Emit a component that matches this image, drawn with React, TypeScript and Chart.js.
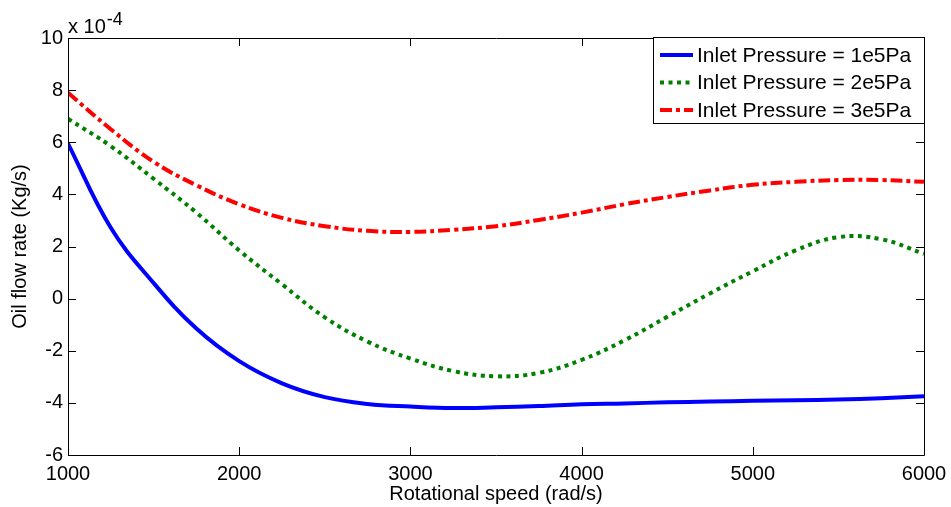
import React, { useEffect, useRef } from "react";
import { Chart, registerables } from "chart.js";

Chart.register(...registerables);

// Rotational speed (rad/s)
const speeds = [1000, 1250, 1500, 1750, 2000, 2250, 2500, 2750, 3000, 3250, 3500, 3750, 4000, 4250, 4500, 4750, 5000, 5250, 5500, 5750, 6000];

// Oil flow rate in units of 1e-4 kg/s
const flow1e5 = [5.95, 2.72, 0.6, -1.15, -2.4, -3.25, -3.78, -4.04, -4.14, -4.2, -4.17, -4.12, -4.05, -4.02, -3.98, -3.95, -3.92, -3.9, -3.87, -3.82, -3.75];
const flow2e5 = [6.9, 5.85, 4.6, 3.3, 1.85, 0.55, -0.72, -1.65, -2.3, -2.78, -2.98, -2.85, -2.35, -1.6, -0.7, 0.2, 1.05, 1.85, 2.36, 2.28, 1.72];
const flow3e5 = [7.9, 6.5, 5.25, 4.35, 3.62, 3.1, 2.78, 2.6, 2.56, 2.64, 2.78, 3.02, 3.3, 3.62, 3.9, 4.15, 4.37, 4.48, 4.55, 4.55, 4.48];

const seriesLabels = ["Inlet Pressure = 1e5Pa", "Inlet Pressure = 2e5Pa", "Inlet Pressure = 3e5Pa"];
const seriesColors = ["#0000ff", "#008000", "#ff0000"];
const seriesDashes: number[][] = [[], [4, 4.5], [12, 4, 4, 4]];

const xTicks = [1000, 2000, 3000, 4000, 5000, 6000];
const yTicks = [-6, -4, -2, 0, 2, 4, 6, 8, 10];

const xTitle = "Rotational speed (rad/s)";
const yTitle = "Oil flow rate (Kg/s)";
const exponentBase = "x 10";
const exponentPower = "-4";

const FONT = "Arial, 'Liberation Sans', Helvetica, sans-serif";

const matlabPlugin = {
  id: "matlabDecor",
  afterDatasetsDraw(chart: any) {
    const { ctx, chartArea, scales } = chart;
    const { left, right, top, bottom } = chartArea;
    ctx.save();
    // axes box
    ctx.strokeStyle = "#000";
    ctx.lineWidth = 1;
    ctx.setLineDash([]);
    ctx.beginPath();
    ctx.rect(Math.round(left) + 0.5, Math.round(top) + 0.5, Math.round(right - left), Math.round(bottom - top));
    ctx.stroke();
    // inward ticks
    const tl = 8;
    ctx.beginPath();
    xTicks.forEach((v) => {
      const x = Math.round(scales.x.getPixelForValue(v)) + 0.5;
      ctx.moveTo(x, bottom);
      ctx.lineTo(x, bottom - tl);
      ctx.moveTo(x, top);
      ctx.lineTo(x, top + tl);
    });
    yTicks.forEach((v) => {
      const y = Math.round(scales.y.getPixelForValue(v)) + 0.5;
      ctx.moveTo(left, y);
      ctx.lineTo(left + tl, y);
      ctx.moveTo(right, y);
      ctx.lineTo(right - tl, y);
    });
    ctx.stroke();

    // exponent label
    ctx.fillStyle = "#000";
    ctx.font = `20px ${FONT}`;
    ctx.textAlign = "left";
    ctx.textBaseline = "alphabetic";
    ctx.fillText(exponentBase, left, 33);
    const w = ctx.measureText(exponentBase).width;
    ctx.font = `18px ${FONT}`;
    ctx.fillText(exponentPower, left + w + 1, 25);

    // legend box
    const bx = 653.5, by = 37.5, bw = Math.round(right) - 653, bh = 86;
    ctx.fillStyle = "#fff";
    ctx.fillRect(bx, by, bw, bh);
    ctx.strokeStyle = "#000";
    ctx.lineWidth = 1;
    ctx.strokeRect(bx, by, bw, bh);
    const rows = [55, 82.5, 110];
    chart.data.datasets.forEach((ds: any, i: number) => {
      const y = rows[i];
      ctx.strokeStyle = ds.borderColor;
      ctx.lineWidth = 4;
      ctx.setLineDash(ds.borderDash || []);
      ctx.beginPath();
      ctx.moveTo(660, y);
      ctx.lineTo(693, y);
      ctx.stroke();
      ctx.setLineDash([]);
      ctx.fillStyle = "#000";
      ctx.font = `21px ${FONT}`;
      ctx.textBaseline = "middle";
      ctx.fillText(ds.label, 697, y + 1);
    });
    ctx.restore();
  },
};

export default function App() {
  const canvasRef = useRef<HTMLCanvasElement | null>(null);

  useEffect(() => {
    const canvas = canvasRef.current;
    if (!canvas) return;
    const allSeries = [flow1e5, flow2e5, flow3e5];
    const chart = new Chart(canvas, {
      type: "line",
      data: {
        datasets: allSeries.map((vals, i) => ({
          label: seriesLabels[i],
          data: speeds.map((s, j) => ({ x: s, y: vals[j] })),
          borderColor: seriesColors[i],
          backgroundColor: seriesColors[i],
          borderWidth: 4,
          borderDash: seriesDashes[i],
          borderCapStyle: "butt",
          pointRadius: 0,
          tension: 0.4,
          fill: false,
        })),
      },
      options: {
        responsive: false,
        animation: false,
        devicePixelRatio: 1,
        layout: { padding: { top: 38, right: 27, left: 0, bottom: 0 } },
        plugins: {
          legend: { display: false },
          tooltip: { enabled: false },
        },
        scales: {
          x: {
            type: "linear",
            min: 1000,
            max: 6000,
            afterFit: (s: any) => { s.height = 52; s.paddingLeft = 0; s.paddingRight = 0; },
            afterBuildTicks: (s: any) => { s.ticks = xTicks.map((v) => ({ value: v })); },
            grid: { display: false, drawTicks: false },
            border: { display: false },
            ticks: {
              color: "#000",
              padding: 7,
              maxRotation: 0,
              font: { family: FONT, size: 20 },
              callback: (v: any) => String(v),
            },
            title: {
              display: true,
              text: xTitle,
              color: "#000",
              font: { family: FONT, size: 20 },
              padding: { top: 0, bottom: 1 },
            },
          },
          y: {
            type: "linear",
            min: -6,
            max: 10,
            afterFit: (s: any) => { s.width = 68; s.paddingTop = 0; s.paddingBottom = 0; },
            afterBuildTicks: (s: any) => { s.ticks = yTicks.map((v) => ({ value: v })); },
            grid: { display: false, drawTicks: false },
            border: { display: false },
            ticks: {
              color: "#000",
              padding: 5,
              font: { family: FONT, size: 20 },
              callback: (v: any) => String(v),
            },
            title: {
              display: true,
              text: yTitle,
              color: "#000",
              font: { family: FONT, size: 20 },
              padding: { top: 8, bottom: 0 },
            },
          },
        },
      },
      plugins: [matlabPlugin],
    } as any);
    return () => chart.destroy();
  }, []);

  return (
    <div style={{ position: "fixed", left: 0, top: 0, width: 951, height: 507, background: "#fff" }}>
      <canvas ref={canvasRef} width={951} height={507} style={{ width: 951, height: 507, display: "block" }} />
    </div>
  );
}
